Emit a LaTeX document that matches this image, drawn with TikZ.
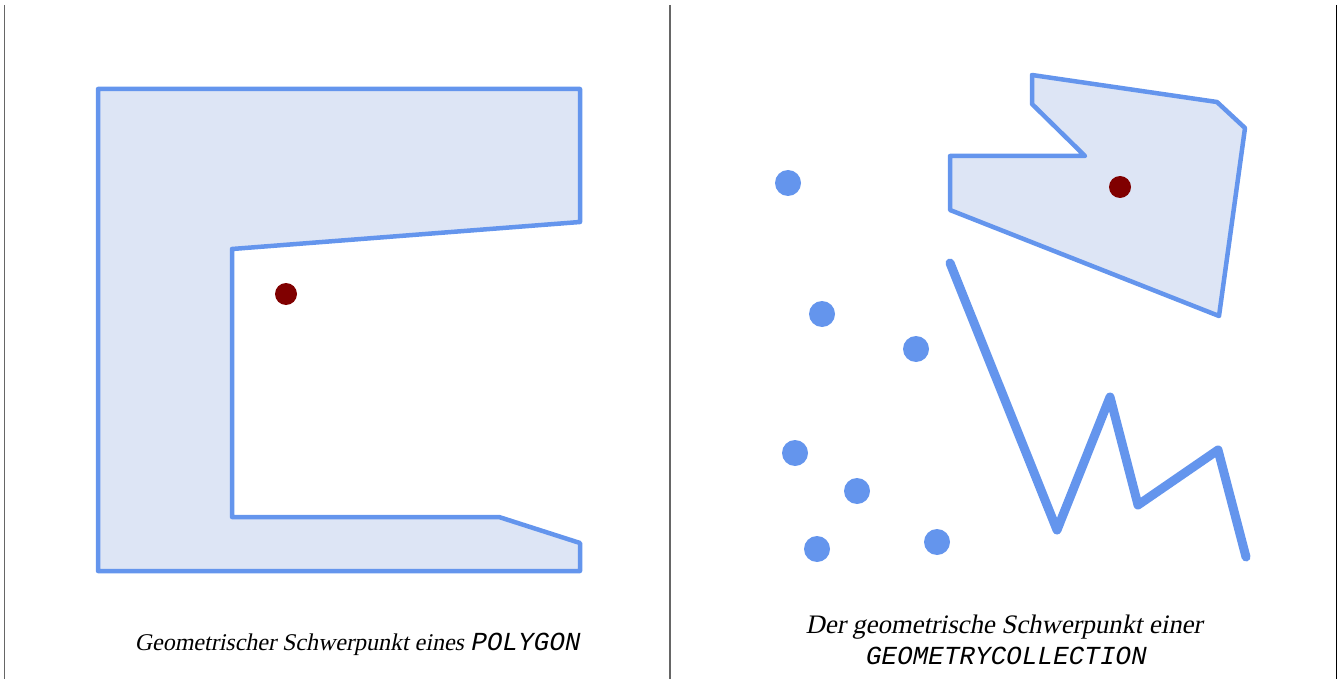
\documentclass[tikz,border=0pt]{standalone}
\usepackage{fontspec}
\setmainfont{Liberation Serif}
\setmonofont{Liberation Mono}
\newfontfamily\capserif[FakeSlant=0.2]{Liberation Serif}
\newfontfamily\capmono[FakeSlant=0.2]{Liberation Mono}
\usepackage{tikz}
\usetikzlibrary{calc,positioning}
\definecolor{geoblue}{HTML}{6495ED}
\definecolor{geofill}{HTML}{DDE5F5}
\definecolor{darkred}{HTML}{800000}
\tikzset{
  geopoly/.style={fill=geofill, draw=geoblue, line width=4.5pt, line join=round},
  geoline/.style={draw=geoblue, line width=9pt, line cap=round, line join=round},
  geopt/.style={fill=geoblue},
  centroid/.style={fill=darkred},
  caption/.style={font=\capserif\fontsize{24}{32}\selectfont, align=center},
  capcode/.style={font=\capmono\fontsize{26}{32}\selectfont}
}
\begin{document}
\begin{tikzpicture}[x=1pt,y=-1pt]
        \useasboundingbox (0,0) rectangle (1341,679);
        % panel borders
        \draw[gray!80!black, line width=1.2pt] (4.5,5) -- (4.5,679);
        \draw[gray!80!black, line width=1.2pt] (670,5) -- (670,679);
        \draw[black, line width=1.2pt] (1336.5,5) -- (1336.5,679);
        % Draw the polygon
        \draw[geopoly] (98,89) -- (580,89) -- (580,222) -- (232,249) -- (232,517)
              -- (499,517) -- (580,543) -- (580,571) -- (98,571) -- cycle;
        \fill[centroid] (286,294) circle (11);
        \node[caption, anchor=base] (capa) at (357,650)
              {Geometrischer Schwerpunkt eines {\capmono\fontsize{26}{32}\selectfont POLYGON}};
        % collection: polygon
        \draw[geopoly] (1032,75) -- (1217,102) -- (1245,128) -- (1219,316) -- (950,210)
              -- (950,156) -- (1085,156) -- (1032,104) -- cycle;
        % collection: line
        \draw[geoline] (950,263) -- (1057,530) -- (1110,397) -- (1138,505) -- (1218,450) -- (1246,557);
        % collection: points
        \foreach \p in {(788,183),(822,314),(916,349),(795,453),(857,491),(817,549),(937,542)}
          \fill[geopt] \p circle (13);
        \fill[centroid] (1120,187) circle (11);
        \node[caption, font=\capserif\fontsize{26.7}{32}\selectfont, anchor=base] (capb) at (1004,633)
              {Der geometrische Schwerpunkt einer};
        \node[capcode, anchor=base] (capc) at (1005,664) {GEOMETRYCOLLECTION};
      \end{tikzpicture}
\end{document}
